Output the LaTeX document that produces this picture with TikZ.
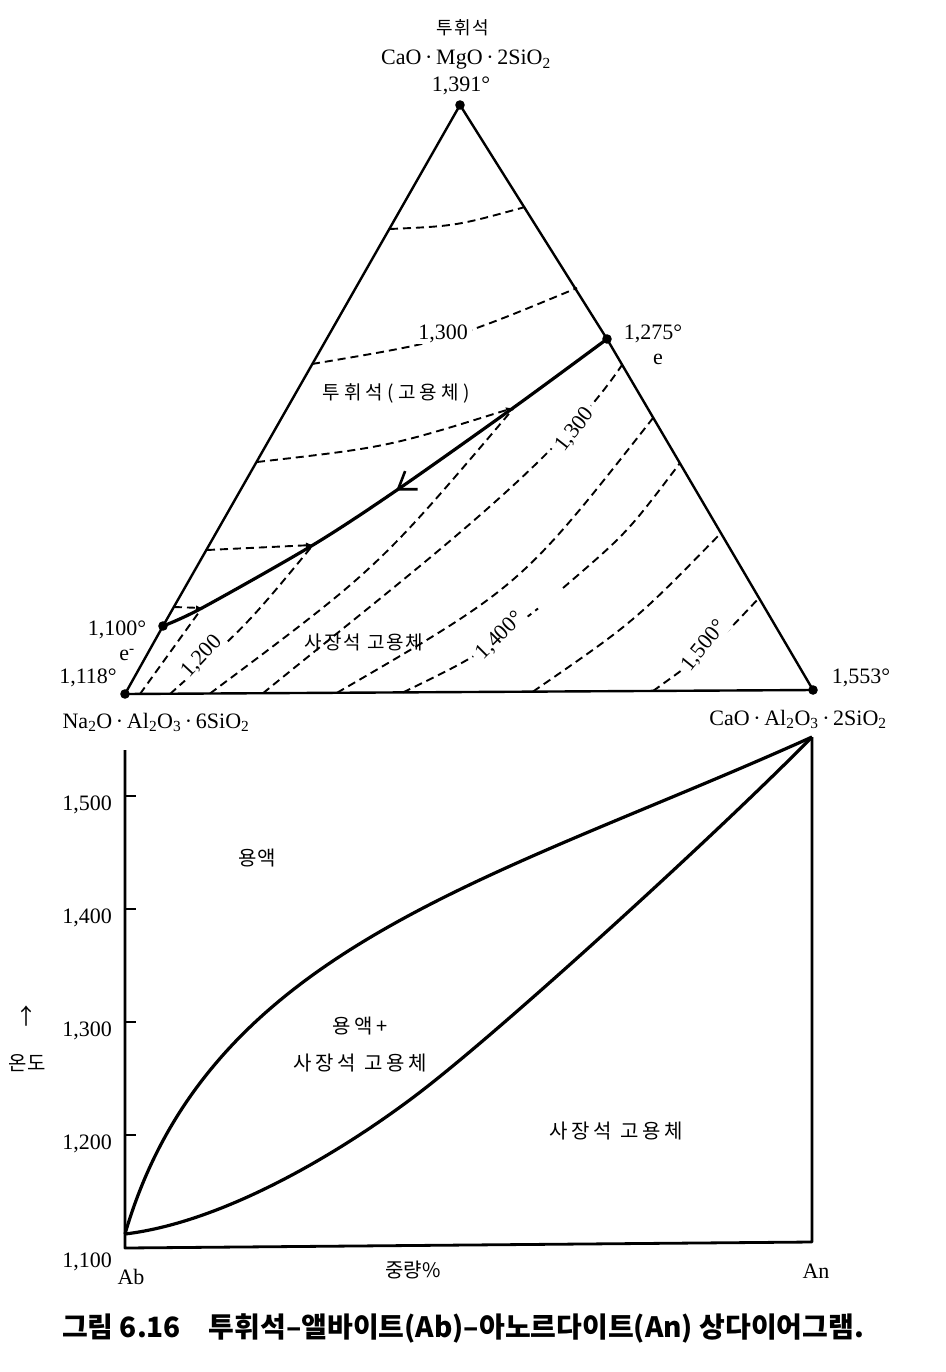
\documentclass[tikz,border=0pt]{standalone}
\usepackage{fontspec}
\setmainfont{Liberation Serif}
\newfontfamily\kr{Noto Sans CJK KR}
\usetikzlibrary{arrows.meta,decorations.markings}
\begin{document}
\begin{tikzpicture}[x=1pt,y=-1pt,
  tedge/.style={line width=2.4pt, line join=round},
  bline/.style={line width=3.2pt, line join=round, line cap=round},
  isoline/.style={line width=1.9pt, dash pattern=on 8pt off 5pt},
  lbl/.style={font=\fontsize{22}{24}\selectfont, inner sep=1pt},
  isolbl/.style={lbl, fill=white, inner xsep=4pt, inner ysep=1pt},
  klbl/.style={font=\kr\fontsize{19}{21}\selectfont\addfontfeature{LetterSpace=10}, inner sep=1pt},
  kbig/.style={font=\kr\fontsize{20}{22}\selectfont\addfontfeature{LetterSpace=18}, inner sep=1pt},
  pcurve/.style={line width=3.2pt, line join=round},
  axline/.style={line width=2.8pt, line join=round},
  smalltip/.style={-{Latex[length=7pt,width=6pt]}},
]
\useasboundingbox (0,0) rectangle (945,1372);

% ---------- triangle ----------
\coordinate (T) at (460,105);
\coordinate (L) at (125,694);
\coordinate (R) at (813,690);
\coordinate (E1) at (607,339);
\coordinate (E2) at (163,626);
\draw[tedge] (T) -- (E1) -- (R) -- (L) -- (E2) -- cycle;

% isotherms in diopside field
\draw[isoline] (390,229) .. controls (456,226) .. (525,207);
\draw[isoline] (312,364) .. controls (449,341) .. (577,288);
\draw[isoline, smalltip] (257,462) .. controls (388,447) .. (513,408);
\draw[isoline, smalltip] (207,550) -- (313,545);
\draw[isoline, -{Latex[length=6pt,width=5pt]}] (174,607) -- (202,608);

% isotherms in plagioclase field
\draw[isoline] (140,694) -- (202,608);
\draw[isoline] (170,694) .. controls (247,625) .. (313,545);
\draw[isoline] (210,693.5) .. controls (378,568) .. (513,409);
\draw[isoline] (263,693.2) .. controls (418,567) and (555,464.5) .. (622,365);
\draw[isoline] (337,692.8) .. controls (521,586) .. (653,418);
\draw[isoline] (403,692.4) .. controls (476,657) .. (538,608.5);
\draw[isoline] (563,588) .. controls (627,533) .. (680,463);
\draw[isoline] (533,691.6) .. controls (634,622) .. (721,533);
\draw[isoline] (653,691) .. controls (710,650) .. (759,598);

% boundary curve
\draw[bline, postaction={decorate},
  decoration={markings, mark=at position 0.49 with {\arrow{Straight Barb[length=16pt,width=22pt,line width=2.6pt]}}}]
  plot[smooth, tension=0.5] coordinates {(E1) (513,408) (397,490) (313,545) (202,608) (E2)};

% dots
\foreach \p in {T,L,R,E1,E2} \fill (\p) circle[radius=4.8pt];

% isotherm labels
\node[isolbl] (i1300a) at (443,334) {1,300};
\node[isolbl, rotate=52] (i1300b) at (575,430) {1,300};
\node[isolbl, rotate=47] (i1200) at (202,657) {1,200};
\node[isolbl, rotate=45] (i1400) at (500,636) {1,400°};
\node[isolbl, rotate=51] (i1500) at (704,646) {1,500°};

% field labels
\node[klbl, font=\kr\fontsize{19}{21}\selectfont\addfontfeature{LetterSpace=22}] (f1) at (396,393) {투휘석(고용체)};
\node[klbl] (f2) at (364,642) {사장석 고용체};

% vertex labels
\node[klbl, font=\kr\fontsize{18}{20}\selectfont\addfontfeature{LetterSpace=8}] (v1) at (463,28) {투휘석};
\node[lbl] (v2) at (466,60) {CaO\,·\,MgO\,·\,2SiO\textsubscript{2}};
\node[lbl] (v3) at (461,86) {1,391°};
\node[lbl] (v4) at (653,334) {1,275°};
\node[lbl] (v5) at (658,359) {e};
\node[lbl] (v6) at (117,630) {1,100°};
\node[lbl] (v7) at (127,655) {e\textsuperscript{-}};
\node[lbl] (v8) at (88,678) {1,118°};
\node[lbl] (v9) at (156,722) {Na\textsubscript{2}O\,·\,Al\textsubscript{2}O\textsubscript{3}\,·\,6SiO\textsubscript{2}};
\node[lbl] (v10) at (861,678) {1,553°};
\node[lbl] (v11) at (798,719) {CaO\,·\,Al\textsubscript{2}O\textsubscript{3}\,·\,2SiO\textsubscript{2}};

% ---------- binary diagram ----------
\coordinate (O) at (125,1248);
\coordinate (Ytop) at (125,750);
\coordinate (Xend) at (812,1242);
\coordinate (Ab) at (125,1234);
\coordinate (An) at (812,737);
\coordinate (Ps) at (433,1082);
\draw[axline] (Ytop) -- (O) -- (Xend) -- (An);
\foreach \y in {796,909,1022,1135} \draw[axline] (125,\y) -- (136,\y);

% liquidus
\draw[pcurve] (Ab) .. controls (209,946) and (493.5,880.5) .. (An);
% solidus
\draw[pcurve] (Ab) .. controls (234,1221) and (363,1138) .. (Ps)
  .. controls (526.6,1007.6) and (728,822.7) .. (An);

\node[lbl, anchor=east] (y1) at (113,805) {1,500};
\node[lbl, anchor=east] (y2) at (113,918) {1,400};
\node[lbl, anchor=east] (y3) at (113,1031) {1,300};
\node[lbl, anchor=east] (y4) at (113,1144) {1,200};
\node[lbl, anchor=east] (y5) at (113,1262) {1,100};
\node[lbl] (xa) at (131,1277) {Ab};
\node[lbl] (xb) at (816,1271) {An};
\node[kbig, font=\kr\fontsize{20}{22}\selectfont] (xl) at (413,1270) {중량\%};
\node[kbig, font=\kr\fontsize{22}{24}\selectfont] (ar) at (27,1016) {↑};
\node[kbig, font=\kr\fontsize{20}{22}\selectfont\addfontfeature{LetterSpace=5}] (yl) at (27,1063) {온도};

\node[kbig, font=\kr\fontsize{20}{22}\selectfont\addfontfeature{LetterSpace=5}] (r1) at (257,858) {용액};
\node[kbig] (r2) at (360,1026) {용액+};
\node[kbig] (r3) at (360,1063) {사장석 고용체};
\node[kbig] (r4) at (616,1131) {사장석 고용체};

% caption
\node[font=\kr\bfseries\fontsize{28}{30}\selectfont, inner sep=0pt] (cap) at (463,1328) {그림 6.16\quad 투휘석–앨바이트(Ab)–아노르다이트(An) 상다이어그램.};
\end{tikzpicture}
\end{document}
